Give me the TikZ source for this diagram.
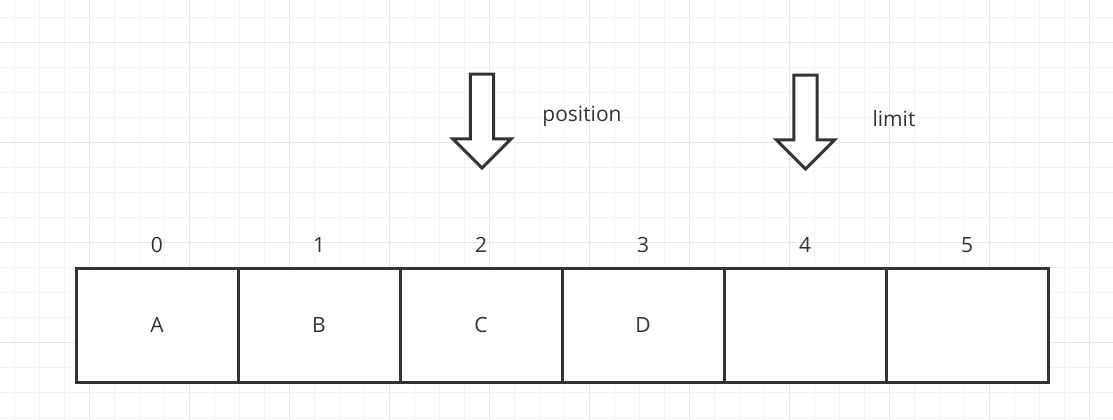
\documentclass[tikz,border=0pt]{standalone}
\usepackage{fontspec}
\setmainfont{Open Sans}
\usetikzlibrary{shapes.arrows, positioning}
\definecolor{ink}{HTML}{333333}
\definecolor{gridminor}{HTML}{F4F4F4}
\definecolor{gridmajor}{HTML}{E8E8E8}

\begin{document}
\begin{tikzpicture}[x=1pt,y=-1pt,node distance=162pt,
	every node/.append style={text=ink,font=\fontsize{21}{25}\selectfont},
	cell/.style={draw=ink,fill=white,line width=3pt,minimum width=162pt,minimum height=114pt,inner sep=0pt,outer sep=0pt},
	idx/.style={node distance=80pt},
	blockarrow/.style={single arrow,draw=ink,fill=white,line width=3pt,shape border rotate=270,
		minimum height=94pt,minimum width=58pt,inner sep=10pt,single arrow head extend=17pt,outer sep=0pt}]
	\useasboundingbox (0,0) rectangle (1113,420);
	\fill[white] (0,0) rectangle (1113,420);
	
	% grid
	\foreach \i in {0,...,44} \draw[gridminor,line width=1pt] (14.3+25*\i,0) -- ++(0,420);
	\foreach \i in {0,...,16} \draw[gridminor,line width=1pt] (0,17.7+25*\i) -- ++(1113,0);
	\foreach \i in {0,...,10} \draw[gridmajor,line width=1pt] (89.3+100*\i,0) -- ++(0,420);
	\foreach \i in {0,...,3} \draw[gridmajor,line width=1pt] (0,42.7+100*\i) -- ++(1113,0);
	
	\node[cell] (c0) at (157,325) {A};
	\node[cell] (c1) [right of=c0] {B};
	\node[cell] (c2) [right of=c1] {C};
	\node[cell] (c3) [right of=c2] {D};
	\node[cell] (c4) [right of=c3] {};
	\node[cell] (c5) [right of=c4] {};
	
	\node (i0) [idx, above of=c0] {0};
	\node (i1) [idx, above of=c1] {1};
	\node (i2) [idx, above of=c2] {2};
	\node (i3) [idx, above of=c3] {3};
	\node (i4) [idx, above of=c4] {4};
	\node (i5) [idx, above of=c5] {5};
	
	\node[blockarrow, anchor=tail] (pos) at (482,74) {};
	\node[blockarrow, anchor=tail] (lim) at (805.5,75) {};
	
	\node (postext) at (582,116) {position};
	\node (limtext) at (894,119) {limit};
\end{tikzpicture}
\end{document}
